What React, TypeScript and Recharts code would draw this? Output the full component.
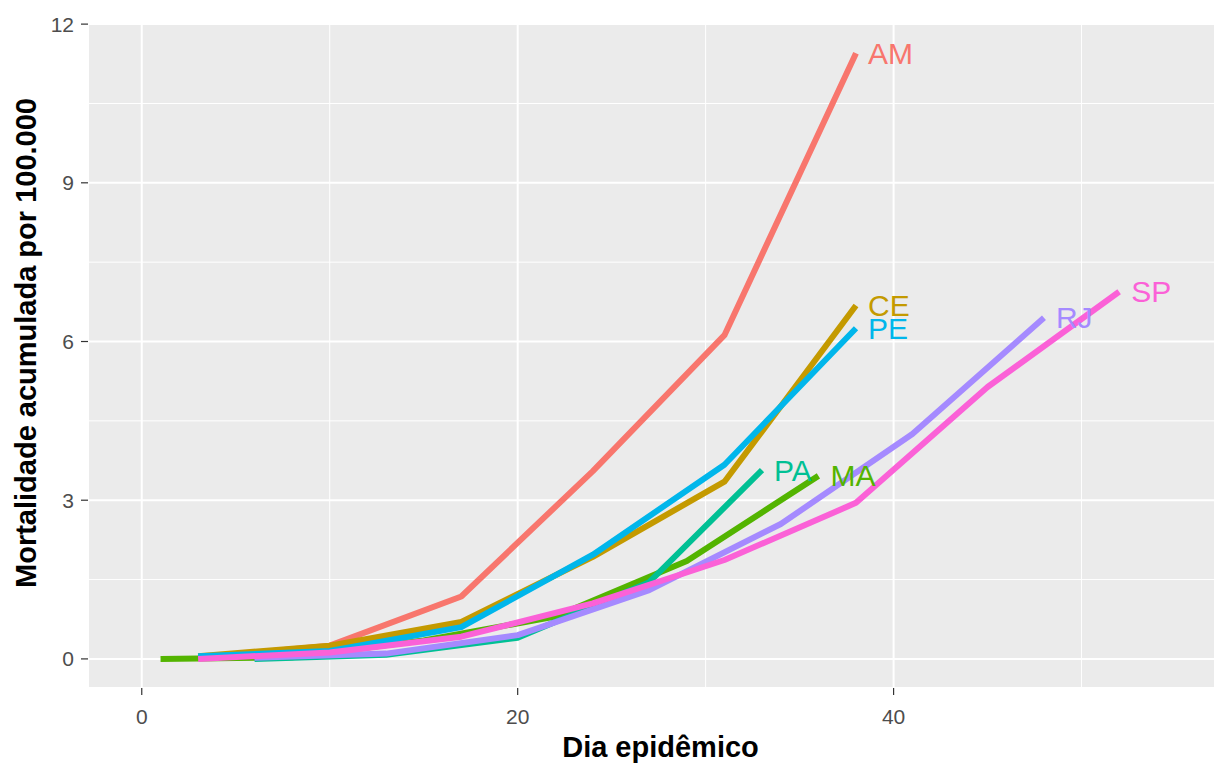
import React from 'react';
import { LineChart, Line, XAxis, YAxis, CartesianGrid, ReferenceLine } from 'recharts';

// ggplot default hue palette, one colour per state
const STATE_COLORS: Record<string, string> = {
  AM: '#F8766D',
  CE: '#C49A00',
  MA: '#53B400',
  PA: '#00C094',
  PE: '#00B6EB',
  RJ: '#A58AFF',
  SP: '#FB61D7',
};

// epidemic day / cumulative mortality per 100k
const AM_DAYS = [3, 10, 17, 24, 31, 38];
const AM_VALUES = [0.02, 0.25, 1.18, 3.55, 6.12, 11.45];

const CE_DAYS = [3, 10, 17, 24, 31, 38];
const CE_VALUES = [0.05, 0.25, 0.7, 1.93, 3.35, 6.68];

const MA_DAYS = [1, 8, 15, 22, 29, 36];
const MA_VALUES = [0, 0.03, 0.35, 0.8, 1.85, 3.46];

const PA_DAYS = [6, 13, 20, 27, 33];
const PA_VALUES = [0, 0.08, 0.4, 1.45, 3.57];

const PE_DAYS = [3, 10, 17, 24, 31, 38];
const PE_VALUES = [0.05, 0.15, 0.6, 1.97, 3.67, 6.25];

const RJ_DAYS = [6, 13, 20, 27, 34, 41, 48];
const RJ_VALUES = [0.02, 0.1, 0.45, 1.3, 2.55, 4.25, 6.45];

const SP_DAYS = [3, 10, 17, 24, 31, 38, 45, 52];
const SP_VALUES = [0, 0.12, 0.42, 1.05, 1.87, 2.95, 5.14, 6.94];

const X_TICKS = [0, 20, 40];
const X_MINOR = [10, 30, 50];
const Y_TICKS = [0, 3, 6, 9, 12];
const Y_MINOR = [1.5, 4.5, 7.5, 10.5];

const FONT = '"Liberation Sans", Arial, sans-serif';

const toRows = (days: number[], values: number[]) =>
  days.map((day, i) => ({ day, value: values[i] }));

const SERIES = [
  { name: 'AM', data: toRows(AM_DAYS, AM_VALUES) },
  { name: 'CE', data: toRows(CE_DAYS, CE_VALUES) },
  { name: 'MA', data: toRows(MA_DAYS, MA_VALUES) },
  { name: 'PA', data: toRows(PA_DAYS, PA_VALUES) },
  { name: 'PE', data: toRows(PE_DAYS, PE_VALUES) },
  { name: 'RJ', data: toRows(RJ_DAYS, RJ_VALUES) },
  { name: 'SP', data: toRows(SP_DAYS, SP_VALUES) },
];

// state name printed just right of the last point of each line
function EndLabel(props: any) {
  const { x, y, index, lastIndex, name } = props;
  if (index !== lastIndex || x == null || y == null) return null;
  return (
    <text
      x={x + 12}
      y={y}
      fill={STATE_COLORS[name]}
      fontSize={30}
      fontFamily={FONT}
      dominantBaseline="central"
    >
      {name}
    </text>
  );
}

function XTitle(props: any) {
  const { x, y, width, height } = props.viewBox;
  return (
    <text
      x={x + width / 2 + 9}
      y={y + height - 6}
      textAnchor="middle"
      fontSize={29}
      fontWeight={700}
      fontFamily={FONT}
      fill="#000"
    >
      Dia epidêmico
    </text>
  );
}

function YTitle(props: any) {
  const { y, height } = props.viewBox;
  const cy = y + height / 2 - 12;
  return (
    <text
      x={36}
      y={cy}
      transform={`rotate(-90, 36, ${cy})`}
      textAnchor="middle"
      fontSize={29}
      fontWeight={700}
      fontFamily={FONT}
      fill="#000"
    >
      Mortalidade acumulada por 100.000
    </text>
  );
}

export default function App() {
  return (
    <div style={{ position: 'absolute', left: 0, top: 0, background: '#fff' }}>
      <LineChart width={1217} height={763} margin={{ top: 22, right: 2, bottom: 0, left: 0 }}>
        <CartesianGrid fill="#EBEBEB" stroke="#FFFFFF" strokeWidth={2} />
        {X_MINOR.map((v) => (
          <ReferenceLine key={`xm-${v}`} x={v} stroke="#FFFFFF" strokeWidth={1} />
        ))}
        {Y_MINOR.map((v) => (
          <ReferenceLine key={`ym-${v}`} y={v} stroke="#FFFFFF" strokeWidth={1} />
        ))}
        <XAxis
          dataKey="day"
          type="number"
          domain={[-2.86, 57.1]}
          ticks={X_TICKS}
          allowDataOverflow
          height={75}
          axisLine={false}
          tickSize={7}
          tickMargin={14}
          tickLine={{ stroke: '#333333', strokeWidth: 1.2 }}
          tick={{ fill: '#4D4D4D', fontSize: 21, fontFamily: FONT }}
          label={<XTitle />}
        />
        <YAxis
          type="number"
          domain={[-0.55, 12.04]}
          ticks={Y_TICKS}
          allowDataOverflow
          width={88}
          axisLine={false}
          tickSize={7}
          tickMargin={7}
          tickLine={{ stroke: '#333333', strokeWidth: 1.2 }}
          tick={{ fill: '#4D4D4D', fontSize: 21, fontFamily: FONT }}
          label={<YTitle />}
        />
        {SERIES.map((s) => (
          <Line
            key={s.name}
            data={s.data}
            dataKey="value"
            name={s.name}
            type="linear"
            stroke={STATE_COLORS[s.name]}
            strokeWidth={6}
            strokeLinecap="butt"
            strokeLinejoin="round"
            dot={false}
            activeDot={false}
            isAnimationActive={false}
            label={(p: any) => (
              <EndLabel key={`${s.name}-${p.index}`} {...p} lastIndex={s.data.length - 1} name={s.name} />
            )}
          />
        ))}
      </LineChart>
    </div>
  );
}
